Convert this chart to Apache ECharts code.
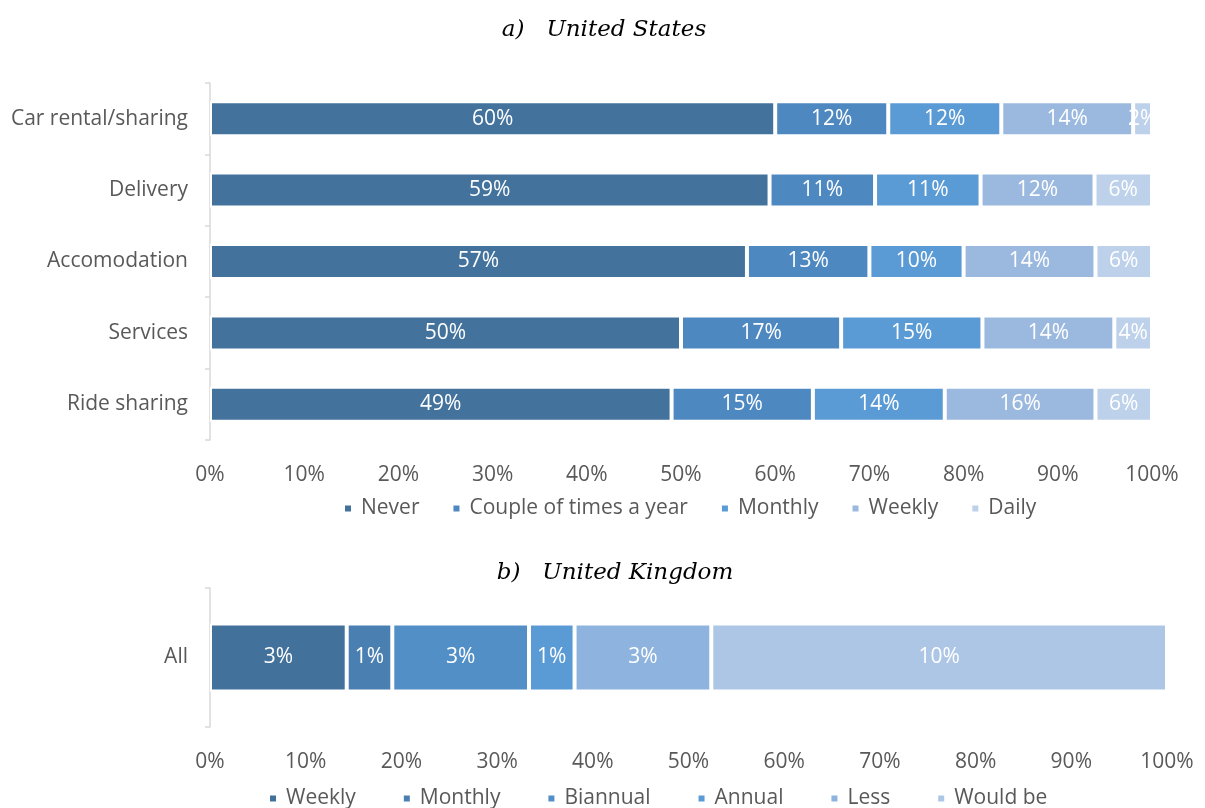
<!DOCTYPE html>
<html>
<head>
<meta charset="utf-8">
<script src="https://cdn.jsdelivr.net/npm/echarts@6/dist/echarts.min.js"></script>
<style>
  html, body { margin: 0; padding: 0; background: #fff; }
  #chart { width: 1205px; height: 808px; }
</style>
</head>
<body>
<div id="chart"></div>
<script>
// a) United States
const usCategories = ['Car rental/sharing', 'Delivery', 'Accomodation', 'Services', 'Ride sharing']
const usSeriesNames = ['Never', 'Couple of times a year', 'Monthly', 'Weekly', 'Daily']
const usNever = [60, 59.4, 57, 50, 49]
const usCouple = [12, 11.2, 13, 17, 15]
const usMonthly = [12, 11.2, 10, 15, 14]
const usWeekly = [14, 12.1, 14, 14, 16]
const usDaily = [2, 6.1, 6, 4, 6]
const usColors = ['#43729d', '#4e88c1', '#5b9bd5', '#9bb9df', '#bdd1eb']

// b) United Kingdom
const ukCategories = ['All']
const ukSeriesNames = ['Weekly', 'Monthly', 'Biannual', 'Annual', 'Less', 'Would be']
const ukValues = [3, 1, 3, 1, 3, 10]
const ukColors = ['#42719c', '#4a7fb2', '#528fc6', '#5b9bd5', '#8db3de', '#adc6e6']

const xTicks = [0, 10, 20, 30, 40, 50, 60, 70, 80, 90, 100]

const labelFont = '"Open Sans", sans-serif'
const titleFont = '"DejaVu Serif", serif'
const textGray = '#595959'
const fontSize = 21

const chart = echarts.init(document.getElementById('chart'))

const usData = [usNever, usCouple, usMonthly, usWeekly, usDaily]
const ukTotal = ukValues.reduce((a, b) => a + b, 0)

function xAxisFor(gridIndex, margin) {
  return {
    type: 'value',
    gridIndex,
    min: 0,
    max: 100,
    interval: 10,
    axisLine: { show: false },
    axisTick: { show: false },
    splitLine: { show: false },
    axisLabel: {
      color: textGray,
      fontSize,
      fontFamily: labelFont,
      margin,
      formatter: v => xTicks.includes(v) ? v + '%' : '',
    },
  }
}

const yAxisBase = {
  type: 'category',
  inverse: true,
  axisLine: { show: true, lineStyle: { color: '#d9d9d9', width: 1.5 } },
  axisTick: { show: true, length: 5, lineStyle: { color: '#d9d9d9', width: 1.5 } },
  axisLabel: { color: textGray, fontSize, fontFamily: labelFont, margin: 22 },
}

const barLabel = {
  show: true,
  position: 'inside',
  color: '#fff',
  fontSize,
  fontFamily: labelFont,
}

const usSeries = usSeriesNames.map((name, i) => ({
  name,
  type: 'bar',
  stack: 'us',
  xAxisIndex: 0,
  yAxisIndex: 0,
  barWidth: 35,
  data: usData[i],
  itemStyle: { color: usColors[i], borderColor: '#fff', borderWidth: 2 },
  label: { ...barLabel, formatter: p => Math.round(p.value) + '%' },
}))

const ukSeries = ukSeriesNames.map((name, i) => ({
  name,
  type: 'bar',
  stack: 'uk',
  xAxisIndex: 1,
  yAxisIndex: 1,
  barWidth: 68,
  data: [ukValues[i] / ukTotal * 100],
  itemStyle: { color: ukColors[i], borderColor: '#fff', borderWidth: 2 },
  label: { ...barLabel, formatter: () => ukValues[i] + '%' },
}))

function legendFor(names, colors, left, top, gap) {
  return {
    data: names.map((name, i) => ({ name, itemStyle: { color: colors[i] } })),
    left,
    top,
    padding: 0,
    icon: 'rect',
    itemWidth: 8,
    itemHeight: 8,
    itemGap: gap,
    textStyle: { color: textGray, fontSize, fontFamily: labelFont, padding: [0, 0, 0, 4] },
  }
}

const titleStyle = { fontFamily: titleFont, fontStyle: 'italic', fontWeight: 'normal', fontSize: 23, color: '#000' }

chart.setOption({
  animation: false,
  title: [
    { text: 'a)   United States', left: 599, top: 14, textAlign: 'center', textStyle: titleStyle },
    { text: 'b)   United Kingdom', left: 610, top: 557, textAlign: 'center', textStyle: titleStyle },
  ],
  legend: [
    legendFor(usSeriesNames, usColors, 343, 498, 32),
    legendFor(ukSeriesNames, ukColors, 268, 788, 46),
  ],
  grid: [
    { left: 210, top: 83, width: 942, height: 357 },
    { left: 210, top: 588, width: 957, height: 139 },
  ],
  xAxis: [xAxisFor(0, 25), xAxisFor(1, 25)],
  yAxis: [
    { ...yAxisBase, gridIndex: 0, data: usCategories },
    { ...yAxisBase, gridIndex: 1, data: ukCategories },
  ],
  series: [...usSeries, ...ukSeries],
})
</script>
</body>
</html>
